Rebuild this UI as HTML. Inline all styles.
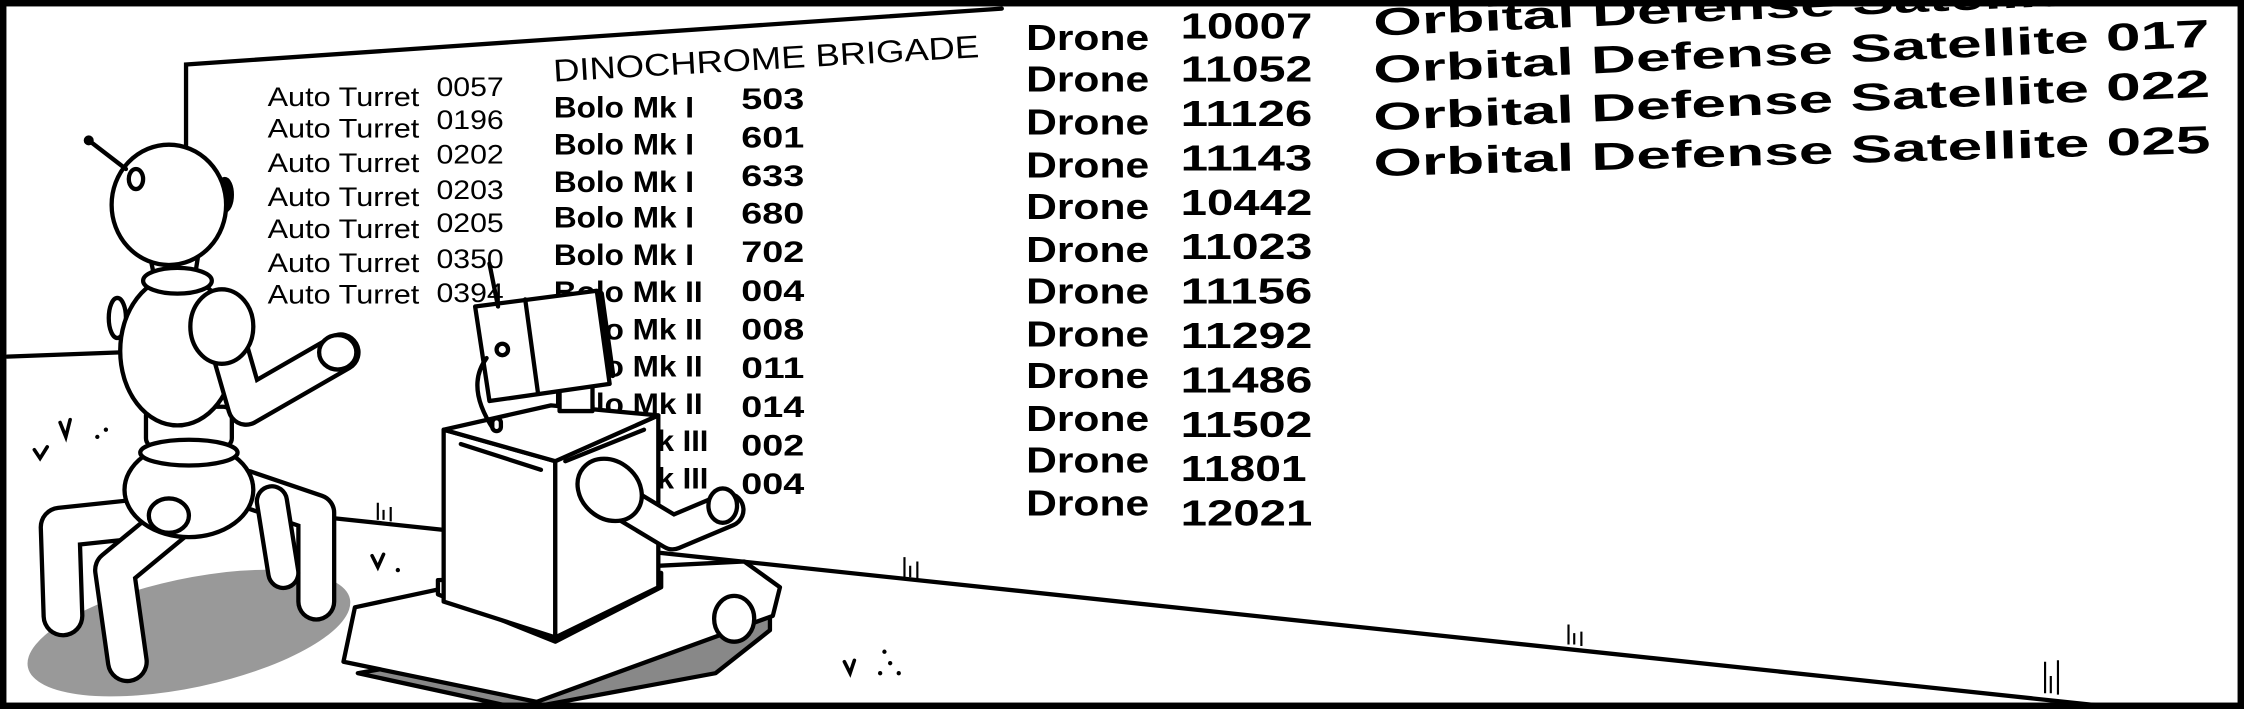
<!DOCTYPE html>
<html><head><meta charset="utf-8"><style>
html,body{margin:0;padding:0;background:#fff;}
svg{display:block;}
text{font-family:"Liberation Sans",sans-serif;fill:#000;}
</style></head><body>
<svg width="2244" height="709" viewBox="0 0 1568 495" preserveAspectRatio="none" xmlns="http://www.w3.org/2000/svg">
<rect x="0" y="0" width="1568" height="495" fill="#fff"/>
<g stroke="#000" stroke-width="3" fill="none" stroke-linecap="round">
<polyline points="130,108 130,45 700,6"/>
<line x1="5" y1="249" x2="84" y2="246"/>
<line x1="235" y1="362" x2="1490" y2="495"/>
</g>
<g stroke="#000" stroke-width="1.5" fill="none">
<path d="M264,363 v-12 M268,363 v-7 M273,364 v-10"/>
<path d="M632,403 v-14 M636,403 v-8 M641,404 v-12"/>
<path d="M1096,450 v-14 M1100,450 v-8 M1105,451 v-10"/>
<path d="M1429,484 v-22 M1433,484 v-12 M1438,485 v-24"/>
</g>
<g stroke="#000" stroke-width="2.5" fill="none" stroke-linecap="round">
<path d="M24,314 l4,6 l5,-8"/><path d="M42,295 l4,10 l3,-12"/>
<path d="M260,388 l4,8 l4,-9"/><path d="M590,462 l4,8 l3,-9"/>
</g>
<g fill="#000"><circle cx="68" cy="305" r="1.5"/><circle cx="74" cy="300" r="1.5"/><circle cx="278" cy="398" r="1.5"/><circle cx="615" cy="470" r="1.5"/><circle cx="622" cy="463" r="1.5"/><circle cx="628" cy="470" r="1.5"/><circle cx="618" cy="455" r="1.5"/></g>

<g font-size="19">
<text x="187" y="74" textLength="106" lengthAdjust="spacingAndGlyphs">Auto Turret</text><text x="305" y="67" textLength="47" lengthAdjust="spacingAndGlyphs">0057</text>
<text x="187" y="96" textLength="106" lengthAdjust="spacingAndGlyphs">Auto Turret</text><text x="305" y="90" textLength="47" lengthAdjust="spacingAndGlyphs">0196</text>
<text x="187" y="120" textLength="106" lengthAdjust="spacingAndGlyphs">Auto Turret</text><text x="305" y="114" textLength="47" lengthAdjust="spacingAndGlyphs">0202</text>
<text x="187" y="144" textLength="106" lengthAdjust="spacingAndGlyphs">Auto Turret</text><text x="305" y="139" textLength="47" lengthAdjust="spacingAndGlyphs">0203</text>
<text x="187" y="166" textLength="106" lengthAdjust="spacingAndGlyphs">Auto Turret</text><text x="305" y="162" textLength="47" lengthAdjust="spacingAndGlyphs">0205</text>
<text x="187" y="190" textLength="106" lengthAdjust="spacingAndGlyphs">Auto Turret</text><text x="305" y="187" textLength="47" lengthAdjust="spacingAndGlyphs">0350</text>
<text x="187" y="212" textLength="106" lengthAdjust="spacingAndGlyphs">Auto Turret</text><text x="305" y="211" textLength="47" lengthAdjust="spacingAndGlyphs">0394</text>
</g>
<text x="387" y="57" font-size="22" textLength="298" lengthAdjust="spacingAndGlyphs" transform="rotate(-3.3 387 57)">DINOCHROME BRIGADE</text>
<g font-size="21" font-weight="bold">
<text x="387" y="82" textLength="98" lengthAdjust="spacingAndGlyphs">Bolo Mk I</text><text x="518" y="76" textLength="44" lengthAdjust="spacingAndGlyphs">503</text>
<text x="387" y="108" textLength="98" lengthAdjust="spacingAndGlyphs">Bolo Mk I</text><text x="518" y="103" textLength="44" lengthAdjust="spacingAndGlyphs">601</text>
<text x="387" y="134" textLength="98" lengthAdjust="spacingAndGlyphs">Bolo Mk I</text><text x="518" y="130" textLength="44" lengthAdjust="spacingAndGlyphs">633</text>
<text x="387" y="159" textLength="98" lengthAdjust="spacingAndGlyphs">Bolo Mk I</text><text x="518" y="156" textLength="44" lengthAdjust="spacingAndGlyphs">680</text>
<text x="387" y="185" textLength="98" lengthAdjust="spacingAndGlyphs">Bolo Mk I</text><text x="518" y="183" textLength="44" lengthAdjust="spacingAndGlyphs">702</text>
<text x="387" y="211" textLength="104" lengthAdjust="spacingAndGlyphs">Bolo Mk II</text><text x="518" y="210" textLength="44" lengthAdjust="spacingAndGlyphs">004</text>
<text x="387" y="237" textLength="104" lengthAdjust="spacingAndGlyphs">Bolo Mk II</text><text x="518" y="237" textLength="44" lengthAdjust="spacingAndGlyphs">008</text>
<text x="387" y="263" textLength="104" lengthAdjust="spacingAndGlyphs">Bolo Mk II</text><text x="518" y="264" textLength="44" lengthAdjust="spacingAndGlyphs">011</text>
<text x="387" y="289" textLength="104" lengthAdjust="spacingAndGlyphs">Bolo Mk II</text><text x="518" y="291" textLength="44" lengthAdjust="spacingAndGlyphs">014</text>
<text x="387" y="315" textLength="108" lengthAdjust="spacingAndGlyphs">Bolo Mk III</text><text x="518" y="318" textLength="44" lengthAdjust="spacingAndGlyphs">002</text>
<text x="387" y="341" textLength="108" lengthAdjust="spacingAndGlyphs">Bolo Mk III</text><text x="518" y="345" textLength="44" lengthAdjust="spacingAndGlyphs">004</text>
</g>
<g font-size="25" font-weight="bold">
<text x="717" y="35" textLength="86" lengthAdjust="spacingAndGlyphs">Drone</text><text x="825" y="27" textLength="92" lengthAdjust="spacingAndGlyphs">10007</text>
<text x="717" y="64" textLength="86" lengthAdjust="spacingAndGlyphs">Drone</text><text x="825" y="57" textLength="92" lengthAdjust="spacingAndGlyphs">11052</text>
<text x="717" y="94" textLength="86" lengthAdjust="spacingAndGlyphs">Drone</text><text x="825" y="88" textLength="92" lengthAdjust="spacingAndGlyphs">11126</text>
<text x="717" y="124" textLength="86" lengthAdjust="spacingAndGlyphs">Drone</text><text x="825" y="119" textLength="92" lengthAdjust="spacingAndGlyphs">11143</text>
<text x="717" y="153" textLength="86" lengthAdjust="spacingAndGlyphs">Drone</text><text x="825" y="150" textLength="92" lengthAdjust="spacingAndGlyphs">10442</text>
<text x="717" y="183" textLength="86" lengthAdjust="spacingAndGlyphs">Drone</text><text x="825" y="181" textLength="92" lengthAdjust="spacingAndGlyphs">11023</text>
<text x="717" y="212" textLength="86" lengthAdjust="spacingAndGlyphs">Drone</text><text x="825" y="212" textLength="92" lengthAdjust="spacingAndGlyphs">11156</text>
<text x="717" y="242" textLength="86" lengthAdjust="spacingAndGlyphs">Drone</text><text x="825" y="243" textLength="92" lengthAdjust="spacingAndGlyphs">11292</text>
<text x="717" y="271" textLength="86" lengthAdjust="spacingAndGlyphs">Drone</text><text x="825" y="274" textLength="92" lengthAdjust="spacingAndGlyphs">11486</text>
<text x="717" y="301" textLength="86" lengthAdjust="spacingAndGlyphs">Drone</text><text x="825" y="305" textLength="92" lengthAdjust="spacingAndGlyphs">11502</text>
<text x="717" y="330" textLength="86" lengthAdjust="spacingAndGlyphs">Drone</text><text x="825" y="336" textLength="88" lengthAdjust="spacingAndGlyphs">11801</text>
<text x="717" y="360" textLength="86" lengthAdjust="spacingAndGlyphs">Drone</text><text x="825" y="367" textLength="92" lengthAdjust="spacingAndGlyphs">12021</text>
</g>
<g font-weight="bold">
<text x="960" y="25" font-size="27" textLength="585" lengthAdjust="spacingAndGlyphs" transform="rotate(-2.5 960 25)">Orbital Defense Satellite 011</text>
<text x="960" y="58" font-size="27" textLength="585" lengthAdjust="spacingAndGlyphs" transform="rotate(-2.5 960 58)">Orbital Defense Satellite 017</text>
<text x="960" y="91" font-size="27" textLength="585" lengthAdjust="spacingAndGlyphs" transform="rotate(-2.3 960 91)">Orbital Defense Satellite 022</text>
<text x="960" y="123" font-size="27" textLength="585" lengthAdjust="spacingAndGlyphs" transform="rotate(-1.6 960 123)">Orbital Defense Satellite 025</text>
</g>

<ellipse cx="132" cy="442" rx="115" ry="38" fill="#999" transform="rotate(-12 132 442)"/>
<g stroke="#000" stroke-width="3" fill="#fff" stroke-linecap="round" stroke-linejoin="round">
<path d="M171,341 L221,358 L221,420" stroke-width="28" fill="none"/>
<path d="M171,341 L221,358 L221,420" stroke="#fff" stroke-width="22" fill="none"/>
<path d="M190,350 L198,400" stroke-width="24" fill="none"/>
<path d="M190,350 L198,400" stroke="#fff" stroke-width="18" fill="none"/>
<path d="M118,360 L42,368 L44,430" stroke-width="30" fill="none"/>
<path d="M118,360 L42,368 L44,430" stroke="#fff" stroke-width="24" fill="none"/>
<path d="M120,365 L80,398 L89,462" stroke-width="30" fill="none"/>
<path d="M120,365 L80,398 L89,462" stroke="#fff" stroke-width="24" fill="none"/>
<ellipse cx="132" cy="342" rx="45" ry="33"/>
<ellipse cx="118" cy="360" rx="14" ry="12"/>
<rect x="102" y="284" width="60" height="28" rx="6"/>
<ellipse cx="132" cy="316" rx="34" ry="9"/>
<ellipse cx="82" cy="222" rx="6" ry="14"/>
<ellipse cx="124" cy="245" rx="40" ry="52"/>
<path d="M155,225 L172,284 L238,246" stroke-width="28" fill="none"/>
<path d="M155,225 L172,284 L238,246" stroke="#fff" stroke-width="22" fill="none"/>
<ellipse cx="155" cy="228" rx="22" ry="26"/>
<ellipse cx="236" cy="246" rx="13" ry="12"/>
<path d="M104,175 L139,175 L136,194 L108,194 Z"/>
<ellipse cx="124" cy="196" rx="24" ry="9"/>
<ellipse cx="157" cy="136" rx="5" ry="11" fill="#000"/>
<ellipse cx="118" cy="143" rx="40" ry="42"/>
<line x1="62" y1="98" x2="88" y2="118"/>
<ellipse cx="95" cy="125" rx="5" ry="7"/>
</g>
<circle cx="62" cy="98" r="3.5" fill="#000"/>

<g stroke="#000" stroke-width="3" fill="#fff" stroke-linejoin="round" stroke-linecap="round">
<path d="M250,470 L365,495 L500,470 L538,440 L538,420 Z" fill="#888"/>
<path d="M248,424 L360,400 L520,392 L545,410 L540,430 L375,490 L240,462 Z"/>
<ellipse cx="513" cy="432" rx="14" ry="16"/>
<path d="M306,415 L388,448 L462,410 L462,400 L306,405 Z"/>
<path d="M310,300 L388,322 L388,445 L310,420 Z"/>
<path d="M388,322 L460,290 L460,410 L388,445 Z"/>
<path d="M310,300 L385,283 L460,290 L388,322 Z"/>
<line x1="322" y1="310" x2="378" y2="328"/>
<line x1="395" y1="322" x2="450" y2="300"/>
<path d="M391,287 L391,255 Q402,240 414,255 L414,287 Z"/>
<circle cx="402" cy="262" r="2" fill="#000"/>
<path d="M332,214 L417,203 L426,268 L342,280 Z"/>
<line x1="367" y1="209" x2="376" y2="275"/>
<line x1="420" y1="205" x2="428" y2="262" stroke-width="4"/>
<line x1="342" y1="184" x2="348" y2="214"/>
<circle cx="351" cy="244" r="4"/>
<path d="M340,250 Q325,270 345,300" fill="none"/>
<rect x="344" y="292" width="6" height="9" rx="3"/>
<path d="M425,345 L470,372 L508,356" stroke-width="26" fill="none"/>
<path d="M425,345 L470,372 L508,356" stroke="#fff" stroke-width="20" fill="none"/>
<ellipse cx="426" cy="342" rx="24" ry="20" transform="rotate(40 426 342)"/>
<ellipse cx="505" cy="353" rx="10" ry="12"/>
</g>

<rect x="2" y="2" width="1564" height="491" fill="none" stroke="#000" stroke-width="5"/>
</svg>
</body></html>
